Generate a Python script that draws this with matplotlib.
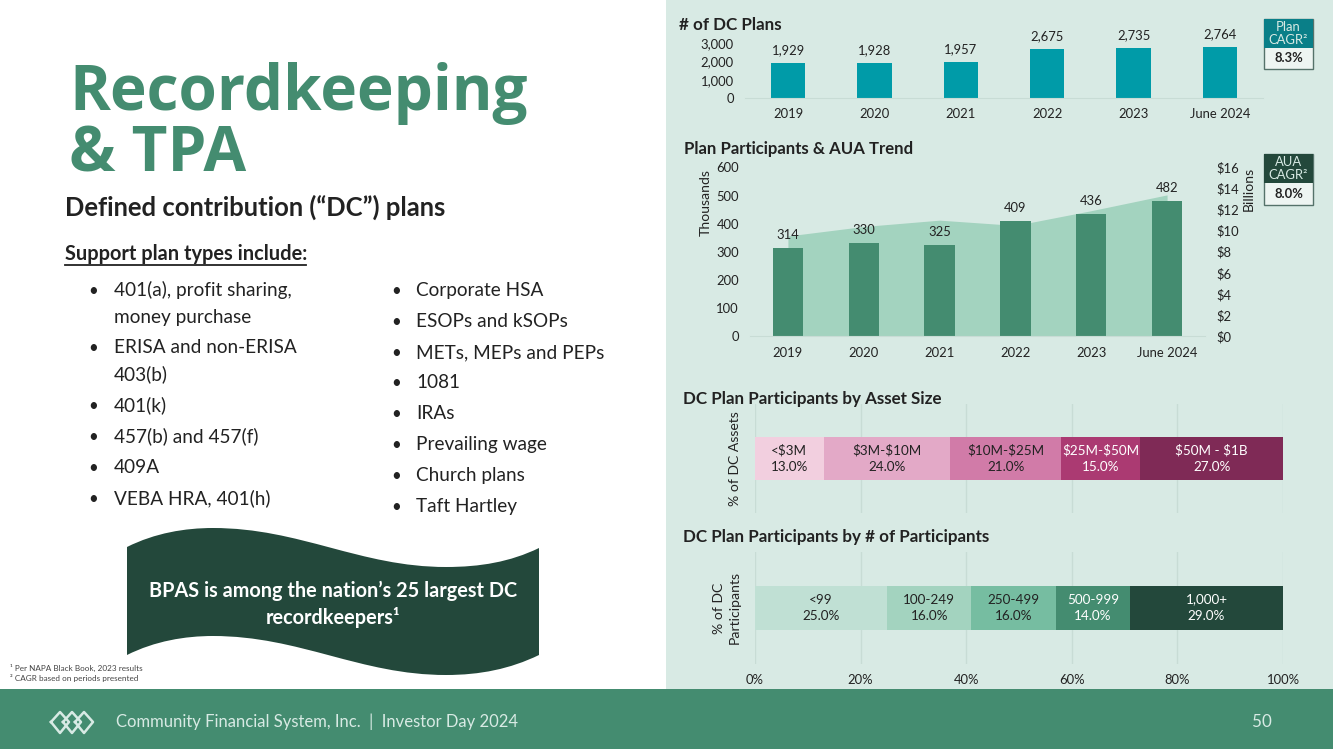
import numpy as np
import matplotlib
matplotlib.use('Agg')
import matplotlib.pyplot as plt
from matplotlib.patches import Rectangle, PathPatch
from matplotlib.path import Path

plt.rcParams['font.family'] = ['Lato', 'DejaVu Sans']

W, H = 1333, 749

# data
years = ['2019', '2020', '2021', '2022', '2023', 'June 2024']
dc_plans = [1929, 1928, 1957, 2675, 2735, 2764]
participants = [314, 330, 325, 409, 436, 482]
aua = [9.5, 10.4, 11.0, 10.5, 11.9, 13.4]

asset_labels = ['<\\$3M', '\\$3M-\\$10M', '\\$10M-\\$25M', '\\$25M-\\$50M', '\\$50M - \\$1B']
asset_share = [13.0, 24.0, 21.0, 15.0, 27.0]
size_labels = ['<99', '100-249', '250-499', '500-999', '1,000+']
size_share = [25.0, 16.0, 16.0, 14.0, 29.0]

left_items = ['401(a), profit sharing,', 'money purchase', 'ERISA and non-ERISA', '403(b)', '401(k)',
              '457(b) and 457(f)', '409A', 'VEBA HRA, 401(h)']
left_bullet = [True, False, True, False, True, True, True, True]
right_items = ['Corporate HSA', 'ESOPs and kSOPs', 'METs, MEPs and PEPs', '1081', 'IRAs',
               'Prevailing wage', 'Church plans', 'Taft Hartley']

# colours
PANEL = '#D8EAE4'
GREEN = '#448C70'
DARK = '#23483B'
TEAL = '#009BA8'
AREA = '#A3D3BF'
GRID = '#C8DCD5'
INK = '#222222'
pinks = ['#F2CFDF', '#E3A9C7', '#D17BA8', '#AB3A72', '#7F2A56']
pink_text = [INK, INK, INK, 'white', 'white']
greens = ['#C0E0D4', '#A3D3BF', '#76BDA1', '#448C70', '#23483B']
green_text = [INK, INK, INK, 'white', 'white']


def px(size):
    return size * 0.72


def axes_px(fig, l, t, r, b):
    ax = fig.add_axes([l / W, 1 - b / H, (r - l) / W, (b - t) / H])
    ax.patch.set_visible(False)
    return ax


fig = plt.figure(figsize=(W / 100, H / 100), dpi=100, facecolor='white')
bg = fig.add_axes([0, 0, 1, 1])
bg.set_xlim(0, W)
bg.set_ylim(H, 0)
bg.axis('off')

bg.add_patch(Rectangle((666, 0), W - 666, 689, color=PANEL, lw=0))
bg.add_patch(Rectangle((0, 689), W, 60, color=GREEN, lw=0))

# left side text
bg.text(69, 110, 'Recordkeeping', family='Open Sans', weight='bold', size=px(62), color=GREEN, va='baseline')
bg.text(69, 172, '& TPA', family='Open Sans', weight='bold', size=px(62), color=GREEN, va='baseline')
bg.text(65, 216, 'Defined contribution (“DC”) plans', weight='bold', size=px(25.6), color=INK, va='baseline')
bg.text(65, 260, 'Support plan types include:', weight='bold', size=px(20), color=INK, va='baseline')
bg.plot([65, 306], [265, 265], color=INK, lw=1.3)

left_y = [290, 317, 347, 374, 405, 436, 467, 498]
for y, item, dot in zip(left_y, left_items, left_bullet):
    if dot:
        bg.text(88, y + 6, '•', size=px(17), color=INK, va='baseline')
    bg.text(114, y + 6, item, size=px(19), color=INK, va='baseline')
right_y = [290, 321, 352, 382, 413, 444, 475, 506]
for y, item in zip(right_y, right_items):
    bg.text(391, y + 6, '•', size=px(17), color=INK, va='baseline')
    bg.text(416, y + 6, item, size=px(19), color=INK, va='baseline')

# wave banner
C = Path.CURVE4
verts = [(127, 547), (155, 533), (185, 528), (213, 528), (300, 528), (360, 567), (446, 567),
         (480, 567), (510, 562), (539, 548), (539, 655), (510, 669), (480, 675), (446, 675),
         (360, 675), (300, 636), (213, 636), (185, 636), (155, 641), (127, 655), (127, 547)]
codes = [Path.MOVETO, C, C, C, C, C, C, C, C, C, Path.LINETO, C, C, C, C, C, C, C, C, C, Path.CLOSEPOLY]
bg.add_patch(PathPatch(Path(verts, codes), color=DARK, lw=0))
bg.text(333, 597, 'BPAS is among the nation’s 25 largest DC', weight='bold', size=px(19.9), color='white',
        ha='center', va='baseline')
bg.text(333, 624, 'recordkeepers¹', weight='bold', size=px(19.9), color='white', ha='center', va='baseline')

bg.text(10, 671, '¹ Per NAPA Black Book, 2023 results', size=px(8.2), color='#444444', va='baseline')
bg.text(10, 681, '² CAGR based on periods presented', size=px(8.2), color='#444444', va='baseline')

# footer
bg.text(116, 727, 'Community Financial System, Inc.  |  Investor Day 2024', size=px(16.6), color=PANEL, va='baseline')
bg.text(1262, 727, '50', size=px(17), color=PANEL, ha='center', va='baseline')
for cx in (60, 72, 84):
    bg.plot([cx - 9, cx, cx + 9, cx, cx - 9], [722, 712, 722, 733, 722], color=PANEL, lw=1.8)


def callout(top, mid, bottom, head, value, colour):
    bg.add_patch(Rectangle((1264, top), 49, bottom - top, fc='#EEF5F2', ec='#55726A', lw=1))
    bg.add_patch(Rectangle((1264, top), 49, mid - top, color=colour, lw=0))
    bg.text(1288.5, (top + mid) / 2, head, size=px(13), color=PANEL, ha='center', va='center', linespacing=1.1)
    bg.text(1288.5, (mid + bottom) / 2, value, size=px(13), weight='bold', color=INK, ha='center', va='center')


callout(19, 48, 69, 'Plan\nCAGR²', '8.3%', '#0A7F88')
callout(154, 183, 205, 'AUA\nCAGR²', '8.0%', DARK)


def clean(ax):
    for s in ('top', 'right', 'left'):
        ax.spines[s].set_visible(False)
    ax.spines['bottom'].set_color(GRID)
    ax.tick_params(length=0, labelsize=px(13), labelcolor=INK)


# of DC plans
bg.text(679, 30, '# of DC Plans', weight='bold', size=px(17), color=INK, va='baseline')
ax1 = axes_px(fig, 745, 43, 1263, 98)
bars = ax1.bar(range(6), dc_plans, width=0.4, color=TEAL)
ax1.bar_label(bars, labels=[f'{v:,}' for v in dc_plans], padding=5, fontsize=px(13), color=INK)
ax1.set_xlim(-0.5, 5.5)
ax1.set_ylim(0, 3000)
ax1.set_yticks([0, 1000, 2000, 3000], ['0', '1,000', '2,000', '3,000'])
ax1.set_xticks(range(6), years)
clean(ax1)
ax1.tick_params(axis='x', pad=7)
ax1.tick_params(axis='y', pad=8)

# participants and AUA
bg.text(684, 154, 'Plan Participants & AUA Trend', weight='bold', size=px(16.8), color=INK, va='baseline')
ax2 = axes_px(fig, 750, 167.5, 1205, 336)
ax2r = ax2.twinx()
ax2r.patch.set_visible(False)
ax2r.fill_between(range(6), aua, color=AREA, lw=0)
ax2r.set_ylim(0, 16)
ax2r.set_yticks(range(0, 17, 2), [f'\\${v}' for v in range(0, 17, 2)])
ax2r.tick_params(length=0, labelsize=px(13), labelcolor=INK, pad=8)
for s in ax2r.spines.values():
    s.set_visible(False)
ax2r.set_ylabel('Billions', size=px(14), color=INK)
ax2r.yaxis.set_label_coords(1.082, 0.87)
ax2.set_zorder(ax2r.get_zorder() + 1)
bars = ax2.bar(range(6), participants, width=0.4, color=GREEN)
ax2.bar_label(bars, padding=5, fontsize=px(13), color=INK)
ax2.set_xlim(-0.5, 5.5)
ax2.set_ylim(0, 600)
ax2.set_yticks(range(0, 601, 100))
ax2.set_xticks(range(6), years)
ax2.set_ylabel('Thousands', size=px(14), color=INK)
ax2.yaxis.set_label_coords(-0.085, 0.79)
clean(ax2)
ax2.tick_params(axis='x', pad=8)
ax2.tick_params(axis='y', pad=8)


def stacked(ax, labels, shares, colours, text_colours):
    left = 0
    for name, v, c, tc in zip(labels, shares, colours, text_colours):
        ax.barh(0, v, left=left, height=0.4, color=c, zorder=3)
        ax.text(left + v / 2, 0, f'{name}\n{v:.1f}%', ha='center', va='center', size=px(13.5), color=tc,
                linespacing=1.5, zorder=4)
        left += v
    ax.set_xlim(0, 100)
    ax.set_ylim(-0.5, 0.5)
    ax.set_yticks([])
    ax.set_xticks(range(0, 101, 20), [f'{v}%' for v in range(0, 101, 20)])
    ax.grid(axis='x', color=GRID, lw=1, zorder=0)
    clean(ax)
    ax.spines['bottom'].set_visible(False)


bg.text(683, 404, 'DC Plan Participants by Asset Size', weight='bold', size=px(17), color=INK, va='baseline')
ax3 = axes_px(fig, 755, 404, 1283, 513)
stacked(ax3, asset_labels, asset_share, pinks, pink_text)
ax3.tick_params(labelbottom=False)
ax3.set_ylabel('% of DC Assets', size=px(14), color=INK, labelpad=10)

bg.text(683, 542, 'DC Plan Participants by # of Participants', weight='bold', size=px(17), color=INK, va='baseline')
ax4 = axes_px(fig, 755, 552, 1283, 664)
stacked(ax4, size_labels, size_share, greens, green_text)
ax4.tick_params(axis='x', pad=7)
ax4.set_ylabel('% of DC\nParticipants', size=px(14), color=INK, labelpad=10, linespacing=1.4)

fig.savefig('out.png', dpi=100)
